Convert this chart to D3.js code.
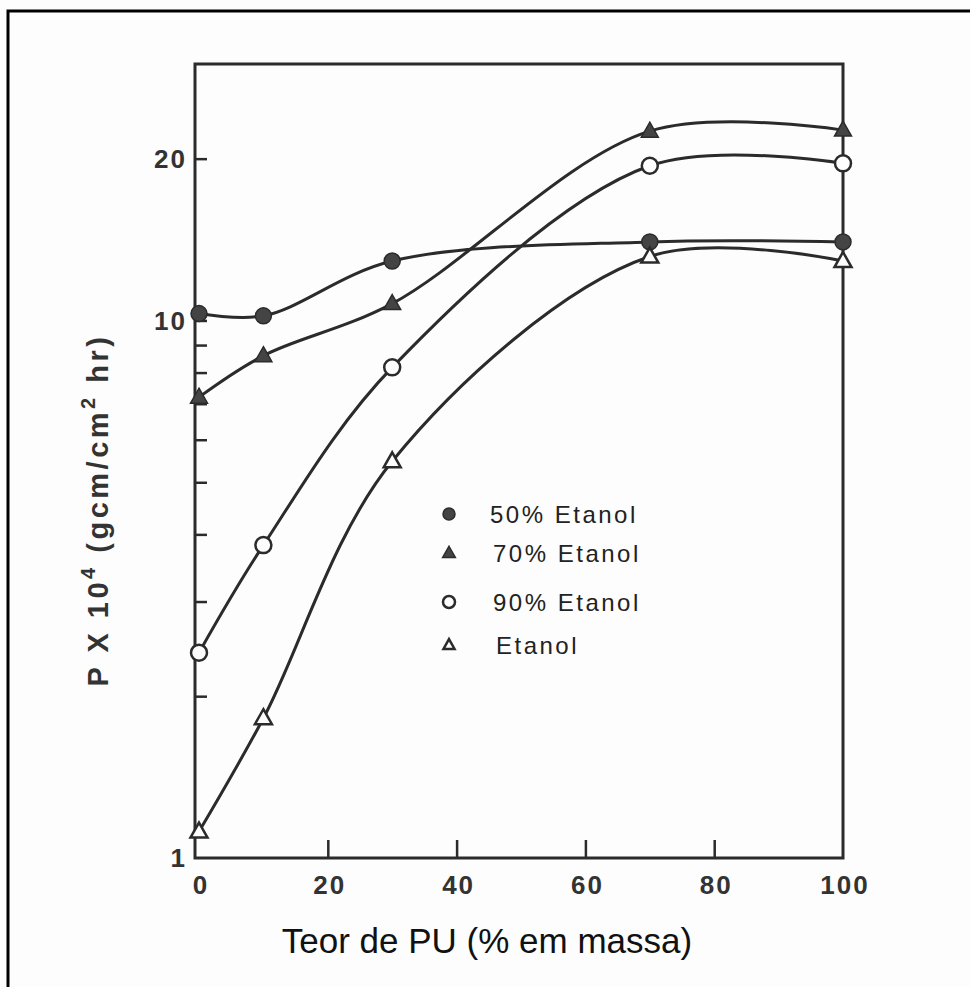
<!DOCTYPE html>
<html><head><meta charset="utf-8">
<script src="https://cdn.jsdelivr.net/npm/d3@7"></script>
<style>html,body{margin:0;padding:0;background:#fcfdfc;}svg{display:block;}</style>
</head><body>
<svg id="c" width="970" height="987"></svg>
<script>
const xValues = [0, 10, 30, 70, 100];
const seriesNames = ["50% Etanol", "70% Etanol", "90% Etanol", "Etanol"];
const s50 = [10.3, 10.2, 12.9, 14.0, 14.0];
const s70 = [7.2, 8.6, 10.75, 22.5, 22.6];
const s90 = [2.41, 3.82, 8.18, 19.4, 19.6];
const sEt = [1.12, 1.82, 5.47, 13.15, 12.9];
const xTicks = [0, 20, 40, 60, 80, 100];
const yLabelTicks = [1, 10, 20];
const yMinorTicks = [2, 3, 4, 5, 6, 7, 8, 9];
const markerTypes = ["filledCircle", "filledTriangle", "openCircle", "openTriangle"];

const svg = d3.select("#c");
const ink = "#2b2b2b";
const font = "Liberation Sans, Arial, sans-serif";

// outer border
svg.append("path").attr("d", "M8,987 L8,11 L970,11").attr("fill", "none").attr("stroke", "#000").attr("stroke-width", 3);

const x = d3.scaleLinear().domain([0, 100]).range([199, 843]);
const y = d3.scaleLog().domain([1, 30]).range([858, 64]);

const g = svg.append("g");
// frame
g.append("rect").attr("x", x(0) - 4).attr("y", y(30)).attr("width", x(100) - x(0) + 4).attr("height", y(1) - y(30))
  .attr("fill", "none").attr("stroke", ink).attr("stroke-width", 3);

// y ticks (inside)
const yAxis = d3.axisRight(y).tickValues(yMinorTicks.concat([10, 20])).tickSize(12).tickFormat("");
const ya = g.append("g").attr("transform", `translate(${x(0) - 4},0)`).call(yAxis);
ya.select(".domain").remove();
ya.selectAll("line").attr("stroke", ink).attr("stroke-width", 2.5);
// y labels
g.selectAll(".ylab").data(yLabelTicks).enter().append("text")
  .attr("x", x(0) - 12).attr("y", d => y(d)).attr("dy", "0.36em").attr("text-anchor", "end")
  .attr("font-family", font).attr("font-size", 26).attr("font-weight", "bold").attr("letter-spacing", 2)
  .attr("fill", "#333").text(d => d);

// x ticks (inside)
const xAxis = d3.axisTop(x).tickValues(xTicks.filter(d => d > 0 && d < 100)).tickSize(18).tickFormat("");
const xa = g.append("g").attr("transform", `translate(0,${y(1)})`).call(xAxis);
xa.select(".domain").remove();
xa.selectAll("line").attr("stroke", ink).attr("stroke-width", 2.5);
g.selectAll(".xlab").data(xTicks).enter().append("text")
  .attr("x", d => x(d) + 2).attr("y", y(1) + 36).attr("text-anchor", "middle")
  .attr("font-family", font).attr("font-size", 26).attr("font-weight", "bold").attr("letter-spacing", 2)
  .attr("fill", "#333").text(d => d);

// axis titles
svg.append("text").attr("x", 487).attr("y", 953).attr("text-anchor", "middle")
  .attr("font-family", font).attr("font-size", 35).attr("fill", "#111")
  .text("Teor de PU (% em massa)");
const yt = svg.append("text").attr("transform", "translate(108,510) rotate(-90)").attr("text-anchor", "middle")
  .attr("font-family", font).attr("font-size", 29).attr("font-weight", "bold").attr("letter-spacing", 3.5).attr("fill", "#333");
yt.append("tspan").text("P X 10");
yt.append("tspan").attr("dy", -13).attr("font-size", 20).text("4");
yt.append("tspan").attr("dy", 13).text("  (gcm/cm");
yt.append("tspan").attr("dy", -13).attr("font-size", 20).text("2");
yt.append("tspan").attr("dy", 13).text(" hr)");

// curves
const allSeries = [s50, s70, s90, sEt];
const line = d3.line().x((d, i) => x(xValues[i])).y(d => y(d)).curve(d3.curveCatmullRom.alpha(0.5));
allSeries.forEach(s => {
  g.append("path").attr("d", line(s)).attr("fill", "none").attr("stroke", ink).attr("stroke-width", 3);
});

function drawMarker(sel, type, cx, cy, sc) {
  const r = 8 * sc;
  if (type === "filledCircle") {
    sel.append("circle").attr("cx", cx).attr("cy", cy).attr("r", r).attr("fill", "#444").attr("stroke", ink).attr("stroke-width", 1.5);
  } else if (type === "openCircle") {
    sel.append("circle").attr("cx", cx).attr("cy", cy).attr("r", r).attr("fill", "#fcfdfc").attr("stroke", ink).attr("stroke-width", 2.5);
  } else {
    const h = 15 * sc, w = 17 * sc;
    const p = `M${cx},${cy - h * 0.6} L${cx + w / 2},${cy + h * 0.4} L${cx - w / 2},${cy + h * 0.4} Z`;
    sel.append("path").attr("d", p)
      .attr("fill", type === "filledTriangle" ? "#444" : "#fcfdfc")
      .attr("stroke", ink).attr("stroke-width", type === "filledTriangle" ? 1.5 : 2.5);
  }
}
allSeries.forEach((s, k) => {
  s.forEach((v, i) => drawMarker(g, markerTypes[k], x(xValues[i]), y(v), 1));
});

// legend
const legY = [514, 553, 602, 645];
seriesNames.forEach((n, k) => {
  drawMarker(svg, markerTypes[k], 449, legY[k], k === 3 ? 0.65 : 0.75);
  svg.append("text").attr("x", k === 0 ? 490 : (k === 3 ? 496 : 493)).attr("y", legY[k]).attr("dy", "0.36em")
    .attr("font-family", font).attr("font-size", 24).attr("letter-spacing", 2.5).attr("fill", "#222").text(n);
});
</script>
</body></html>
